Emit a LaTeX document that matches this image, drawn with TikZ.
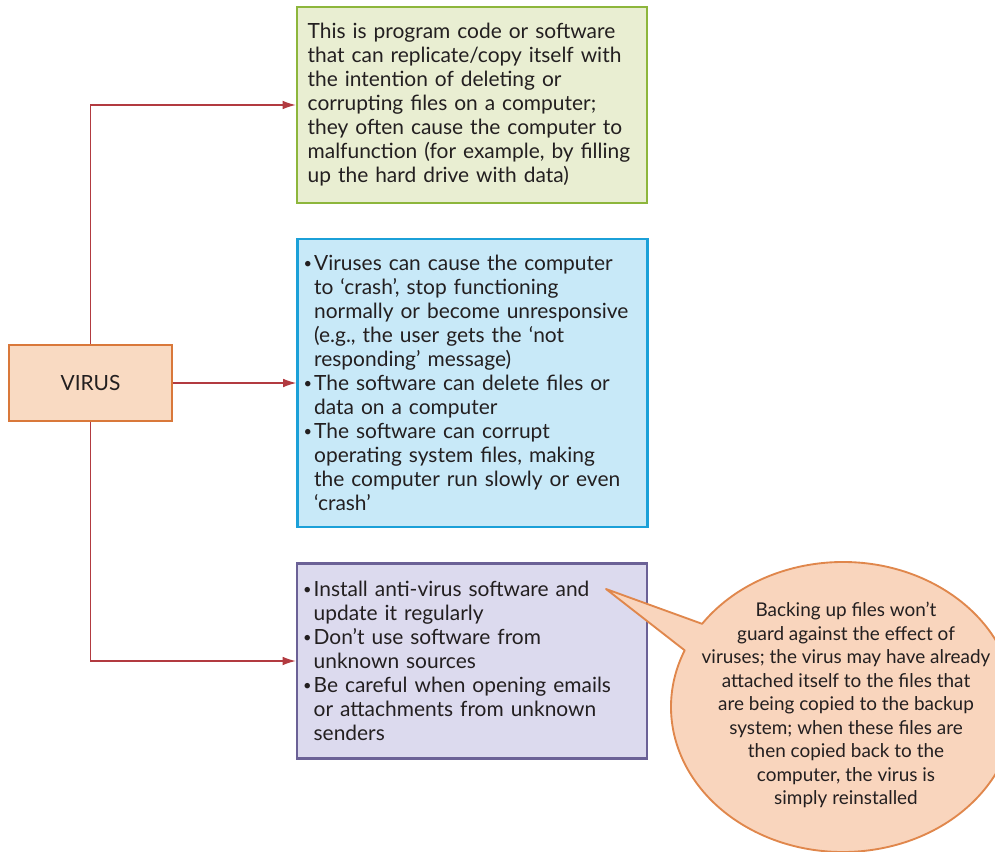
\documentclass[tikz,border=0pt]{standalone}
\usepackage{fontspec}
\setmainfont{Lato}
\usetikzlibrary{arrows.meta,calc}

% Bullet lists written line by line
\newcommand{\bul}{\makebox[8pt][l]{\raisebox{0.1em}{\fontsize{11pt}{11pt}\selectfont\textbullet}}}
\newcommand{\ind}{\hspace*{8pt}}

\begin{document}
\begin{tikzpicture}[x=0.75pt, y=-0.75pt,
    font=\fontsize{15.7pt}{18pt}\selectfont,
    box/.style={draw, line width=1.6pt, align=left, text width=#1, inner ysep=0pt,
        minimum width=262.5pt, text=textColour},
    link/.style={draw=linkColour, line width=1.1pt, -{Latex[length=10pt,width=6.5pt]}}]

    % Define colours
    \definecolor{textColour}{HTML}{231F20}
    \definecolor{linkColour}{HTML}{B23A40}
    \definecolor{virusBorder}{HTML}{D9783A}
    \definecolor{virusFill}{HTML}{F9DAC2}
    \definecolor{defnBorder}{HTML}{8DB63C}
    \definecolor{defnFill}{HTML}{E9EED2}
    \definecolor{effectsBorder}{HTML}{1BA0D8}
    \definecolor{effectsFill}{HTML}{C8E9F8}
    \definecolor{preventBorder}{HTML}{6B6196}
    \definecolor{preventFill}{HTML}{DCDAEE}
    \definecolor{calloutBorder}{HTML}{E0874C}
    \definecolor{calloutFill}{HTML}{F9D5BD}

    % Picture frame
    \useasboundingbox (0,0) rectangle (995,852);

    % Virus box
    \node[draw=virusBorder, fill=virusFill, line width=1.6pt, minimum width=122.25pt,
        minimum height=57pt, text=textColour] (virus) at (90.5,383) {VIRUS};

    % Definition, effects and prevention boxes
    \node[box=246.5pt, draw=defnBorder, fill=defnFill, inner xsep=8pt, minimum height=147pt]
        (defn) at (472,105) {%
        This is program code or software\\
        that can replicate/copy itself with\\
        the intention of deleting or\\
        corrupting files on a computer;\\
        they often cause the computer to\\
        malfunction (for example, by filling\\
        up the hard drive with data)};

    \node[box=253.5pt, draw=effectsBorder, fill=effectsFill, inner xsep=4.5pt, minimum height=216pt]
        (effects) at (472.5,383) {%
        \bul Viruses can cause the computer\\
        \ind to ‘crash’, stop functioning\\
        \ind normally or become unresponsive\\
        \ind (e.g., the user gets the ‘not\\
        \ind responding’ message)\\
        \bul The software can delete files or\\
        \ind data on a computer\\
        \bul The software can corrupt\\
        \ind operating system files, making\\
        \ind the computer run slowly or even\\
        \ind ‘crash’};

    \node[box=253.5pt, draw=preventBorder, fill=preventFill, inner xsep=4.5pt, minimum height=146.25pt]
        (prevent) at (472,661) {%
        \bul Install anti-virus software and\\
        \ind update it regularly\\
        \bul Don’t use software from\\
        \ind unknown sources\\
        \bul Be careful when opening emails\\
        \ind or attachments from unknown\\
        \ind senders};

    % Connectors
    \draw[link] (virus) |- (defn);
    \draw[link] (virus) -- (effects);
    \draw[link] (virus) |- (prevent);

    % Speech bubble pointing into the prevention box
    \coordinate (tip) at (606,589);
    \coordinate (bubble) at (843,707);
    \filldraw[draw=calloutBorder, fill=calloutFill, line width=1.4pt, line join=round]
        (tip) -- ($(bubble)+(145:129pt and 108.75pt)$)
        arc[start angle=145, end angle=-203, x radius=129pt, y radius=108.75pt] -- cycle;
    \node[align=center, text=textColour, font=\fontsize{14.2pt}{17.6pt}\selectfont]
        (backup) at (846,705) {%
        Backing up files won’t\\
        guard against the effect of\\
        viruses; the virus may have already\\
        attached itself to the files that\\
        are being copied to the backup\\
        system; when these files are\\
        then copied back to the\\
        computer, the virus is\\
        simply reinstalled};

\end{tikzpicture}
\end{document}
